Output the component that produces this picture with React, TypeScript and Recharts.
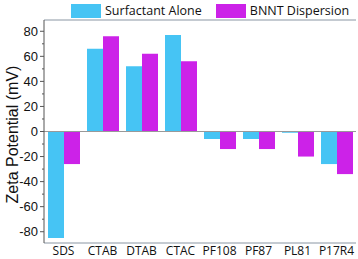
import { BarChart, Bar, XAxis, YAxis, ReferenceLine } from 'recharts';

const categories = ['SDS', 'CTAB', 'DTAB', 'CTAC', 'PF108', 'PF87', 'PL81', 'P17R4'];
const surfactantAlone = [-85, 66, 52, 77, -6, -6, -1, -26];
const bnntDispersion = [-26, 76, 62, 56, -14, -14, -20, -34];
const seriesNames = ['Surfactant Alone', 'BNNT Dispersion'];
const seriesColors = ['#46C4F4', '#CC22E8'];
const yTicks = [-80, -70, -60, -50, -40, -30, -20, -10, 0, 10, 20, 30, 40, 50, 60, 70, 80];
const yDomain = [-89, 89];

const data = categories.map((name, i) => ({
  name,
  alone: surfactantAlone[i],
  bnnt: bnntDispersion[i],
}));

const FRAME = '#8a96a3';

// Major ticks (every 20) get a label, minor ticks are just short marks
function YTick(props: any) {
  const { x, y, payload } = props;
  const v = payload.value as number;
  const major = v % 20 === 0;
  return (
    <g>
      <line x1={major ? x + 2 : x + 4} x2={x + 6} y1={y} y2={y} stroke="#555" strokeWidth={1} />
      {major && (
        <text
          x={x}
          y={y}
          dy="0.35em"
          textAnchor="end"
          fontSize={13}
          fontFamily="'Liberation Sans', Arial, sans-serif"
          fill="#111"
        >
          {v}
        </text>
      )}
    </g>
  );
}

export default function App() {
  return (
    <div style={{ position: 'absolute', left: 0, top: 0, width: 358, height: 259, background: '#fff' }}>
      <div
        style={{
          position: 'absolute',
          left: 71,
          top: 2,
          display: 'flex',
          alignItems: 'center',
          gap: 14,
          fontFamily: "'Open Sans', sans-serif",
          fontSize: 12.5,
          color: '#111',
          whiteSpace: 'nowrap',
        }}
      >
        {seriesNames.map((n, i) => (
          <div key={n} style={{ display: 'flex', alignItems: 'center' }}>
            <span style={{ width: 30, height: 14, background: seriesColors[i], marginRight: 4 }} />
            <span>{n}</span>
          </div>
        ))}
      </div>
      <BarChart
        width={358}
        height={259}
        data={data}
        margin={{ top: 20, right: 2, bottom: 0, left: 0 }}
        barSize={16}
        barGap={0}
      >
        <XAxis
          dataKey="name"
          height={16}
          tickLine={false}
          tickSize={2}
          tickMargin={1}
          axisLine={{ stroke: FRAME }}
          tick={{ fontSize: 12, fontFamily: "'Open Sans', sans-serif", fill: '#111' }}
          interval={0}
        />
        <YAxis
          width={44}
          domain={yDomain}
          ticks={yTicks}
          interval={0}
          tickLine={false}
          tickSize={4}
          tickMargin={2}
          axisLine={{ stroke: '#555' }}
          tick={<YTick />}
          label={{
            value: 'Zeta Potential (mV)',
            angle: -90,
            position: 'center',
            dx: -10,
            dy: 3,
            style: { fontSize: 16, fontFamily: "'Liberation Sans', Arial, sans-serif", fill: '#111', textAnchor: 'middle' },
          }}
        />
        <YAxis yAxisId="right" orientation="right" width={0} domain={yDomain} tick={false} tickLine={false} axisLine={{ stroke: FRAME }} />
        <ReferenceLine y={yDomain[1]} stroke={FRAME} />
        <ReferenceLine y={0} stroke="#999" />
        <Bar dataKey="alone" name={seriesNames[0]} fill={seriesColors[0]} isAnimationActive={false} />
        <Bar dataKey="bnnt" name={seriesNames[1]} fill={seriesColors[1]} isAnimationActive={false} />
      </BarChart>
    </div>
  );
}
